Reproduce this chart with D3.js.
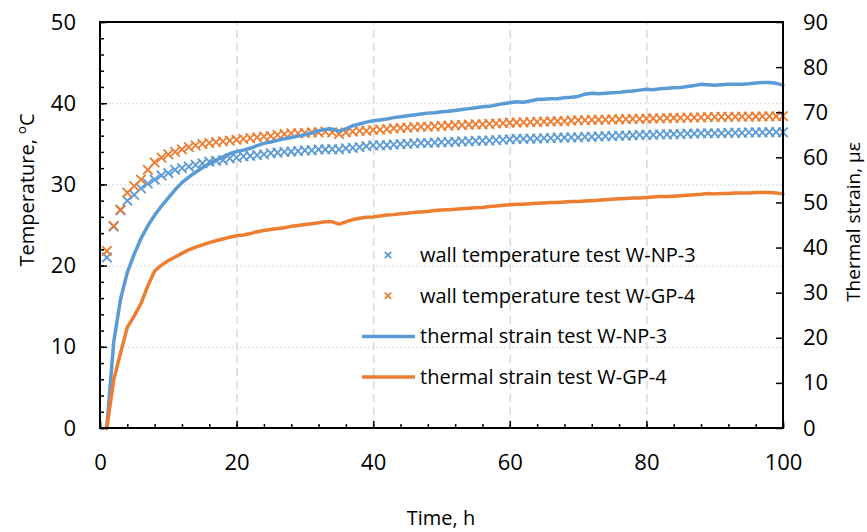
<!DOCTYPE html>
<html>
<head>
<meta charset="utf-8">
<title>Wall temperature and thermal strain</title>
<script src="https://cdnjs.cloudflare.com/ajax/libs/d3/7.8.5/d3.min.js"></script>
<style>
  body { margin: 0; background: #fff; }
  svg { font-family: "Open Sans", sans-serif; }
</style>
</head>
<body>
<script>
// hourly readings, t = 1 .. 100 h
const hours = d3.range(1, 101);

const tempNP3 = [
  21.0, 24.8, 26.8, 28.0, 28.7, 29.5, 30.1, 30.6, 31.1, 31.4,
  31.8, 32.0, 32.2, 32.4, 32.6, 32.8, 32.9, 33.0, 33.2, 33.3,
  33.45, 33.5, 33.6, 33.7, 33.85, 33.9, 34.0, 34.05, 34.1, 34.2,
  34.2, 34.3, 34.3, 34.35, 34.3, 34.45, 34.5, 34.6, 34.7, 34.8,
  34.8, 34.85, 34.9, 34.95, 35.0, 35.05, 35.1, 35.1, 35.15, 35.2,
  35.2, 35.25, 35.3, 35.3, 35.35, 35.4, 35.4, 35.45, 35.5, 35.55,
  35.6, 35.6, 35.65, 35.65, 35.7, 35.7, 35.75, 35.75, 35.8, 35.8,
  35.85, 35.85, 35.9, 35.95, 35.95, 36.0, 36.0, 36.05, 36.1, 36.1,
  36.1, 36.15, 36.15, 36.2, 36.2, 36.25, 36.25, 36.3, 36.3, 36.3,
  36.3, 36.35, 36.35, 36.35, 36.4, 36.4, 36.4, 36.45, 36.45, 36.4
];

const tempGP4 = [
  21.8, 24.9, 26.9, 29.0, 29.8, 30.6, 31.8, 32.7, 33.3, 33.7,
  34.0, 34.3, 34.6, 34.8, 35.0, 35.1, 35.2, 35.3, 35.4, 35.5,
  35.6, 35.7, 35.8, 35.9, 35.95, 36.1, 36.2, 36.3, 36.3, 36.35,
  36.4, 36.4, 36.5, 36.4, 36.2, 36.4, 36.5, 36.6, 36.6, 36.7,
  36.75, 36.8, 36.9, 36.95, 37.0, 37.05, 37.1, 37.1, 37.15, 37.2,
  37.25, 37.3, 37.3, 37.35, 37.4, 37.4, 37.45, 37.5, 37.55, 37.6,
  37.62, 37.65, 37.68, 37.7, 37.72, 37.75, 37.78, 37.8, 37.85, 37.9,
  37.92, 37.94, 37.96, 37.98, 38.0, 38.02, 38.04, 38.06, 38.08, 38.1,
  38.12, 38.14, 38.16, 38.18, 38.2, 38.22, 38.24, 38.26, 38.28, 38.3,
  38.31, 38.32, 38.33, 38.34, 38.35, 38.36, 38.37, 38.38, 38.39, 38.4
];

const strainNP3 = [
  0, 19.0, 28.5, 34.5, 38.5, 42.0, 44.8, 47.2, 49.2, 51.0,
  52.8, 54.4, 55.6, 56.7, 57.7, 58.6, 59.4, 60.1, 60.8, 61.3,
  61.6, 62.0, 62.6, 63.1, 63.4, 63.8, 64.1, 64.4, 64.7, 65.0,
  65.4, 65.9, 66.2, 66.3, 65.8, 66.3, 67.0, 67.4, 67.8, 68.1,
  68.3, 68.5, 68.8, 69.0, 69.2, 69.4, 69.6, 69.8, 69.9, 70.1,
  70.2, 70.4, 70.6, 70.8, 71.0, 71.2, 71.3, 71.6, 71.9, 72.1,
  72.3, 72.2, 72.5, 72.8, 72.9, 73.0, 73.0, 73.2, 73.3, 73.5,
  74.0, 74.2, 74.1, 74.2, 74.3, 74.4, 74.6, 74.7, 74.9, 75.1,
  75.0, 75.2, 75.3, 75.4, 75.5, 75.7, 75.9, 76.2, 76.1, 76.0,
  76.1, 76.2, 76.2, 76.2, 76.3, 76.5, 76.6, 76.6, 76.4, 76.0
];

const strainGP4 = [
  0, 10.6, 16.6, 22.3, 24.8, 27.6, 31.5, 34.8, 36.1, 37.1,
  37.9, 38.7, 39.5, 40.1, 40.6, 41.1, 41.5, 41.9, 42.3, 42.6,
  42.8, 43.1, 43.5, 43.8, 44.0, 44.2, 44.4, 44.7, 44.9, 45.1,
  45.3, 45.5, 45.7, 45.7, 45.2, 45.7, 46.2, 46.5, 46.7, 46.8,
  47.0, 47.2, 47.3, 47.5, 47.6, 47.8, 47.9, 48.0, 48.2, 48.3,
  48.4, 48.5, 48.6, 48.7, 48.8, 48.9, 49.1, 49.2, 49.4, 49.5,
  49.6, 49.6, 49.7, 49.8, 49.9, 50.0, 50.0, 50.1, 50.2, 50.2,
  50.3, 50.4, 50.5, 50.6, 50.7, 50.8, 50.9, 51.0, 51.0, 51.1,
  51.2, 51.3, 51.3, 51.4, 51.5, 51.6, 51.7, 51.8, 52.0, 51.9,
  52.0, 52.0, 52.1, 52.1, 52.1, 52.2, 52.2, 52.2, 52.1, 51.9
];

const xTicks = [0, 20, 40, 60, 80, 100];
const tempTicks = [0, 10, 20, 30, 40, 50];
const strainTicks = [0, 10, 20, 30, 40, 50, 60, 70, 80, 90];

const blue = "#5b9bd5", orange = "#ed7d31";

const series = [
  {name: "wall temperature test W-NP-3", values: tempNP3, type: "marker", color: blue},
  {name: "wall temperature test W-GP-4", values: tempGP4, type: "marker", color: orange},
  {name: "thermal strain test W-NP-3", values: strainNP3, type: "line", color: blue},
  {name: "thermal strain test W-GP-4", values: strainGP4, type: "line", color: orange}
];

const W = 867, H = 532;
const pl = 100, pr = 783, pt = 22, pb = 428;

const svg = d3.select("body").append("svg").attr("width", W).attr("height", H);
svg.append("rect").attr("width", W).attr("height", H).attr("fill", "#fff");

const x = d3.scaleLinear().domain([0, 100]).range([pl, pr]);
const yT = d3.scaleLinear().domain([0, 50]).range([pb, pt]);
const yS = d3.scaleLinear().domain([0, 90]).range([pb, pt]);

// grid
svg.append("g").attr("transform", `translate(0,${pb})`)
  .call(d3.axisBottom(x).tickValues([20, 40, 60, 80]).tickSize(-(pb - pt)).tickFormat(""))
  .call(g => g.select(".domain").remove())
  .selectAll("line").attr("stroke", "#d9d9d9").attr("stroke-width", 1.5).attr("stroke-dasharray", "8,5");

svg.append("g").attr("transform", `translate(${pl},0)`)
  .call(d3.axisLeft(yT).tickValues([10, 20, 30, 40]).tickSize(-(pr - pl)).tickFormat(""))
  .call(g => g.select(".domain").remove())
  .selectAll("line").attr("stroke", "#d9d9d9").attr("stroke-width", 1).attr("stroke-dasharray", "2,2");

// data
const pts = s => hours.map((t, i) => ({t: t, v: s.values[i]}));

series.filter(s => s.type === "marker").forEach(s => {
  svg.append("g").selectAll("path").data(pts(s)).join("path")
    .attr("transform", d => `translate(${x(d.t)},${yT(d.v)})`)
    .attr("d", d3.symbol(d3.symbolX, 60))
    .attr("fill", "none").attr("stroke", s.color).attr("stroke-width", 1.8);
});

const line = d3.line().x(d => x(d.t)).y(d => yS(d.v));
series.filter(s => s.type === "line").forEach(s => {
  svg.append("path").datum(pts(s)).attr("d", line)
    .attr("fill", "none").attr("stroke", s.color).attr("stroke-width", 3.5)
    .attr("stroke-linejoin", "round").attr("stroke-linecap", "round");
});

// axes
function styleAxis(g) {
  g.select(".domain").remove();
  g.selectAll("line").attr("stroke", "#000").attr("stroke-width", 1.5);
  g.selectAll("text").attr("font-size", 22).attr("fill", "#000").attr("font-family", "Open Sans, sans-serif");
}

svg.append("g").attr("transform", `translate(0,${pb})`)
  .call(d3.axisBottom(x).tickValues(d3.range(0, 101, 4)).tickSize(-4).tickFormat(""))
  .call(styleAxis);
svg.append("g").attr("transform", `translate(0,${pb})`)
  .call(d3.axisBottom(x).tickValues(xTicks).tickSize(-7).tickPadding(26))
  .call(styleAxis);

svg.append("g").attr("transform", `translate(${pl},0)`)
  .call(d3.axisLeft(yT).tickValues(d3.range(0, 51, 2)).tickSize(-4).tickFormat(""))
  .call(styleAxis);
svg.append("g").attr("transform", `translate(${pl},0)`)
  .call(d3.axisLeft(yT).tickValues(tempTicks).tickSize(-7).tickPadding(24))
  .call(styleAxis);

svg.append("g").attr("transform", `translate(${pr},0)`)
  .call(d3.axisRight(yS).tickValues(strainTicks).tickSize(-7).tickPadding(20))
  .call(styleAxis);

// frame
svg.append("rect").attr("x", pl).attr("y", pt)
  .attr("width", pr - pl).attr("height", pb - pt)
  .attr("fill", "none").attr("stroke", "#000").attr("stroke-width", 2);

// axis titles
svg.append("text").attr("x", 441).attr("y", 525)
  .attr("text-anchor", "middle").attr("font-size", 20).text("Time, h");

const tl = svg.append("text").attr("transform", "translate(34,190) rotate(-90)")
  .attr("text-anchor", "middle").attr("font-size", 20);
tl.append("tspan").text("Temperature, ");
tl.append("tspan").attr("font-size", 13).attr("dy", -8).text("o");
tl.append("tspan").attr("dy", 8).text("C");

svg.append("text").attr("transform", "translate(860,222) rotate(-90)")
  .attr("text-anchor", "middle").attr("font-size", 19).text("Thermal strain, με");

// legend
const leg = svg.append("g");
series.forEach((s, i) => {
  const yy = 255 + i * 40.7;
  if (s.type === "marker") {
    leg.append("path").attr("transform", `translate(388,${yy})`)
      .attr("d", d3.symbol(d3.symbolX, 28))
      .attr("fill", "none").attr("stroke", s.color).attr("stroke-width", 1.8);
  } else {
    leg.append("line").attr("x1", 362).attr("x2", 415).attr("y1", yy).attr("y2", yy)
      .attr("stroke", s.color).attr("stroke-width", 3.5);
  }
  leg.append("text").attr("x", 420).attr("y", yy).attr("dy", "0.35em")
    .attr("font-size", 20).text(s.name);
});
</script>
</body>
</html>
